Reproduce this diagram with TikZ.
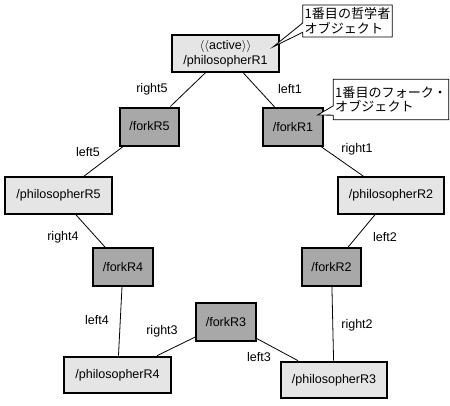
\documentclass[tikz,border=0pt]{standalone}
\usepackage{fontspec}
\setmainfont{Liberation Sans}
\newfontfamily\cjk{Noto Sans CJK JP}
\usetikzlibrary{shapes.callouts}
\definecolor{philgray}{gray}{0.9}
\definecolor{forkgray}{gray}{0.66}

\begin{document}
\begin{tikzpicture}[x=0.75pt, y=-0.75pt,
    font=\fontsize{9.4}{11.2}\selectfont,
    phil/.style={draw, line width=1.5pt, fill=philgray, minimum width=80pt,
        minimum height=27.5pt, inner sep=1pt, align=center},
    fork/.style={draw, line width=1.5pt, fill=forkgray, minimum width=44.5pt,
        minimum height=28.5pt, inner sep=1pt},
    note/.style={rectangle callout, draw, fill=white, line width=0.6pt,
        inner sep=1.5pt, align=left, callout pointer width=7pt,
        font=\cjk\fontsize{9.8}{11}\selectfont},
    role/.style={inner sep=1pt}]
    \useasboundingbox (0,0) rectangle (450,405);
    % philosophers and forks
    \node[phil] (philR1) at (225.5,53.5)
        {$\langle\langle$active$\rangle\rangle$\\/philosopherR1};
    \node[phil] (philR2) at (391,195.5) {/philosopherR2};
    \node[phil] (philR3) at (334,380) {/philosopherR3};
    \node[phil] (philR4) at (117.5,375) {/philosopherR4};
    \node[phil] (philR5) at (58.5,195.5) {/philosopherR5};
    \node[fork] (forkR1) at (293,127) {/forkR1};
    \node[fork] (forkR2) at (331.5,267) {/forkR2};
    \node[fork] (forkR3) at (226,322) {/forkR3};
    \node[fork] (forkR4) at (123,267) {/forkR4};
    \node[fork] (forkR5) at (149.5,126.5) {/forkR5};
    \begin{scope}[line width=0.6pt]
    \draw
        (philR1)--(forkR1)--(philR2)--(forkR2)--(philR3)
        (philR3)--(forkR3)--(philR4)--(forkR4)--(philR5)
        (philR5)--(forkR5)--(philR1);
    \end{scope}
    % role names
    \node[role] (lblleft1) at (290,89) {left1};
    \node[role] (lblright1) at (357,149) {right1};
    \node[role] (lblleft2) at (385,237) {left2};
    \node[role] (lblright2) at (357,325) {right2};
    \node[role] (lblleft3) at (259,357) {left3};
    \node[role] (lblright3) at (162,331) {right3};
    \node[role] (lblleft4) at (97,320) {left4};
    \node[role] (lblright4) at (63,237) {right4};
    \node[role] (lblleft5) at (88,152) {left5};
    \node[role] (lblright5) at (152,89) {right5};
    % comments
    \node[note, minimum width=66pt, minimum height=24pt,
        callout absolute pointer={([xshift=-5pt, yshift=5pt]philR1.east)}]
        (notephil) at (347.5,21) {1番目の哲学者\\オブジェクト};
    \node[note, minimum width=84pt, minimum height=30.5pt,
        callout absolute pointer={([xshift=-4.5pt, yshift=9pt]forkR1.east)}]
        (notefork) at (391,99.5) {1番目のフォーク・\\オブジェクト};
\end{tikzpicture}
\end{document}
